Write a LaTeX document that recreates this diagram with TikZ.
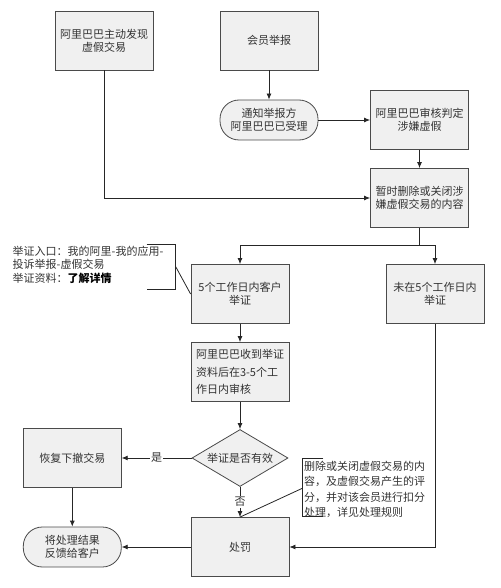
\documentclass[tikz,border=0pt]{standalone}
\usepackage{fontspec}
\usepackage{xcolor}
\usetikzlibrary{shapes,arrows.meta,positioning,calc}
\newfontfamily\cjk{Noto Sans CJK SC}
\definecolor{boxfill}{HTML}{F0F0F0}
\definecolor{edge}{HTML}{4A4A4A}
\definecolor{ink}{HTML}{333333}

\begin{document}
\begin{tikzpicture}[x=1pt,y=-1pt]
  \tikzstyle{box}=[rectangle, draw=edge, fill=boxfill, line width=0.8pt, minimum width=98pt, minimum height=59pt, align=center, text=ink, font=\cjk\fontsize{11}{13.3}\selectfont]
  \tikzstyle{pill}=[box, rounded corners=19pt, minimum height=40pt]
  \tikzstyle{check}=[diamond, draw=edge, fill=boxfill, line width=0.8pt, shape aspect=1.7, minimum width=96pt, minimum height=57pt, inner sep=0pt, text=ink, font=\cjk\fontsize{11}{13.3}\selectfont]
  \tikzstyle{arrow}=[-{Latex[length=6pt,width=5pt]}, line width=0.8pt, draw=black!85]
  \tikzstyle{note}=[align=left, anchor=north west, inner sep=0pt, text=ink, font=\cjk\fontsize{11}{13.6}\selectfont]
  \tikzstyle{brace}=[line width=0.8pt, draw=black!85]

  \useasboundingbox (0,0) rectangle (500,588);

  % 流程节点
  \node[box] (found) at (104,40.5) {阿里巴巴主动发现\\虚假交易};
  \node[box] (report) at (269,40.5) {会员举报};
  \node[pill] (notify) at (269,120) {通知举报方\\阿里巴巴已受理};
  \node[box] (judge) at (419.5,120) {阿里巴巴审核判定\\涉嫌虚假};
  \node[box] (hide) at (419.5,198) {暂时删除或关闭涉\\嫌虚假交易的内容};
  \node[box] (proof) at (240,294) {5个工作日内客户\\举证};
  \node[box] (noproof) at (435,294) {未在5个工作日内\\举证};
  \node[box, align=left, font=\cjk\fontsize{11}{17.5}\selectfont] (review) at (240,372) {阿里巴巴收到举证\\资料后在3-5个工\\作日内审核};
  \node[check] (valid) at (240,458) {举证是否有效};
  \node[box] (restore) at (72.3,458) {恢复下撤交易};
  \node[pill] (feedback) at (72.3,547) {将处理结果\\反馈给客户};
  \node[box] (punish) at (240,547) {处罚};

  % 连线
  \draw[arrow] (found.south) |- (hide.west);
  \draw[arrow] (report) -- (notify);
  \draw[arrow] (notify) -- (judge);
  \draw[arrow] (judge) -- (hide);
  \coordinate (fork) at (419.5,245);
  \draw[brace] (hide.south) -- (fork);
  \draw[arrow] (fork) -| (proof.north);
  \draw[arrow] (fork) -| (noproof.north);
  \draw[arrow] (proof) -- (review);
  \draw[arrow] (review) -- (valid);
  \draw[arrow] (valid) -- node[fill=white, text=ink, font=\cjk\fontsize{11}{13}\selectfont, inner sep=1pt] {是} (restore);
  \draw[arrow] (valid) -- node[fill=white, text=ink, font=\cjk\fontsize{11}{13}\selectfont, inner sep=1pt] {否} (punish);
  \draw[arrow] (restore) -- (feedback);
  \draw[arrow] (punish) -- (feedback);
  \draw[arrow] (noproof.south) |- (punish.east);

  % 注释
  \node[note] (entry) at (12.5,245.5) {举证入口：我的阿里-我的应用-\\投诉举报-虚假交易\\举证资料：\textcolor{black}{\bfseries 了解详情}};
  \draw[brace] (146.7,244.3) -- (175.7,244.3) -- (175.7,289.3) -- (146.7,289.3);
  \coordinate (tip1) at (175.7,266.7);
  \draw[brace] (tip1) -- (proof.west);

  \node[note, font=\cjk\fontsize{11}{15.5}\selectfont] (rule) at (304,460.5) {删除或关闭虚假交易的内\\容，及虚假交易产生的评\\分，并对该会员进行扣分\\处理，详见处理规则};
  \draw[brace] (323.3,458.3) -- (302.3,458.3) -- (302.3,516.7) -- (323.3,516.7);
  \coordinate (tip2) at (302.3,488.3);
  \draw[brace] (tip2) -- (punish.north);
\end{tikzpicture}
\end{document}
